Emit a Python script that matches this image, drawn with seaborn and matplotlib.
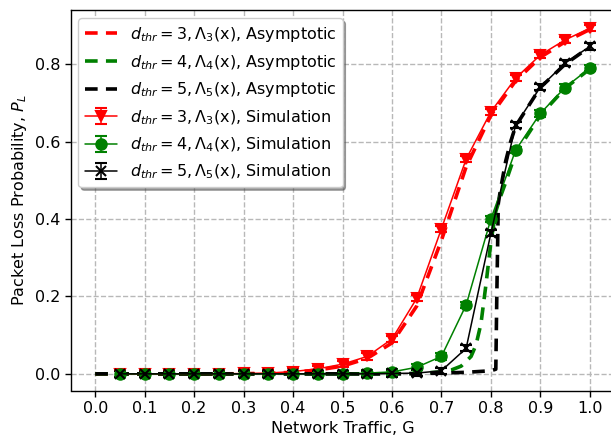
import numpy as np
import pandas as pd
import seaborn as sns
import matplotlib
matplotlib.use("Agg")
import matplotlib.pyplot as plt

# ---- data ----
# Asymptotic curves
x_asym_3 = [0.0, 0.05, 0.1, 0.15, 0.2, 0.25, 0.3, 0.35, 0.4, 0.45, 0.5, 0.55, 0.6, 0.65, 0.7, 0.75, 0.8, 0.85, 0.9, 0.95, 1.0]
y_asym_3 = [0.0, 0.0, 0.0, 0.0, 0.0, 0.0, 0.0005, 0.0015, 0.004, 0.010, 0.020, 0.040, 0.080, 0.175, 0.345, 0.535, 0.668, 0.757, 0.818, 0.858, 0.890]

x_asym_4 = [0.0, 0.05, 0.1, 0.15, 0.2, 0.25, 0.3, 0.35, 0.4, 0.45, 0.5, 0.55, 0.6, 0.65, 0.7, 0.72, 0.74, 0.76, 0.77, 0.78, 0.79, 0.80, 0.81, 0.82, 0.83, 0.85, 0.9, 0.95, 1.0]
y_asym_4 = [0.0, 0.0, 0.0, 0.0, 0.0, 0.0, 0.0, 0.0, 0.0, 0.0, 0.0, 0.0, 0.0005, 0.001, 0.005, 0.010, 0.020, 0.045, 0.075, 0.13, 0.23, 0.34, 0.42, 0.46, 0.495, 0.570, 0.668, 0.738, 0.788]

x_asym_5 = [0.0, 0.05, 0.1, 0.15, 0.2, 0.25, 0.3, 0.35, 0.4, 0.45, 0.5, 0.55, 0.6, 0.65, 0.7, 0.75, 0.8, 0.81, 0.812, 0.815, 0.82, 0.83, 0.84, 0.85, 0.9, 0.95, 1.0]
y_asym_5 = [0.0, 0.0, 0.0, 0.0, 0.0, 0.0, 0.0, 0.0, 0.0, 0.0, 0.0, 0.0, 0.0, 0.0005, 0.002, 0.004, 0.008, 0.012, 0.20, 0.44, 0.48, 0.55, 0.60, 0.640, 0.740, 0.800, 0.845]

# Simulation points
x_sim = [0.05, 0.1, 0.15, 0.2, 0.25, 0.3, 0.35, 0.4, 0.45, 0.5, 0.55, 0.6, 0.65, 0.7, 0.75, 0.8, 0.85, 0.9, 0.95, 1.0]
y_sim_3 = [0.0, 0.0, 0.0, 0.0, 0.0, 0.001, 0.002, 0.006, 0.013, 0.025, 0.045, 0.090, 0.195, 0.375, 0.555, 0.677, 0.764, 0.824, 0.863, 0.893]
y_sim_4 = [0.0, 0.0, 0.0, 0.0, 0.0, 0.0, 0.0, 0.0, 0.0, 0.0, 0.002, 0.005, 0.017, 0.045, 0.178, 0.400, 0.578, 0.673, 0.740, 0.790]
y_sim_5 = [0.0, 0.0, 0.0, 0.0, 0.0, 0.0, 0.0, 0.0, 0.0, 0.0, 0.0, 0.001, 0.002, 0.008, 0.066, 0.363, 0.643, 0.741, 0.803, 0.846]
err_sim = 0.008

labels_asym = [r'$d_{thr} = 3, \Lambda_3$(x), Asymptotic',
               r'$d_{thr} = 4, \Lambda_4$(x), Asymptotic',
               r'$d_{thr} = 5, \Lambda_5$(x), Asymptotic']
labels_sim = [r'$d_{thr} = 3, \Lambda_3$(x), Simulation',
              r'$d_{thr} = 4, \Lambda_4$(x), Simulation',
              r'$d_{thr} = 5, \Lambda_5$(x), Simulation']
colors = ['red', 'green', 'black']
markers = ['v', 'o', 'x']

xticks = [0.0, 0.1, 0.2, 0.3, 0.4, 0.5, 0.6, 0.7, 0.8, 0.9, 1.0]
yticks = [0.0, 0.2, 0.4, 0.6, 0.8]
xlabel = 'Network Traffic, G'
ylabel = r'Packet Loss Probability, $P_L$'

# ---- style ----
sns.set_style("white")
plt.rcParams['font.family'] = ['DejaVu Sans']
plt.rcParams['mathtext.fontset'] = 'dejavusans'
plt.rcParams['text.color'] = 'black'
plt.rcParams['axes.labelcolor'] = 'black'
plt.rcParams['xtick.color'] = 'black'
plt.rcParams['ytick.color'] = 'black'

fig = plt.figure(figsize=(6.11, 4.44), dpi=100)
ax = fig.add_axes([70.5 / 611, (444 - 390.5) / 444, (614.5 - 70.5) / 611, (390.5 - 10.5) / 444])

asym = [(x_asym_3, y_asym_3), (x_asym_4, y_asym_4), (x_asym_5, y_asym_5)]
for (xs, ys), c, lab in zip(asym, colors, labels_asym):
    df = pd.DataFrame({'x': xs, 'y': ys})
    sns.lineplot(data=df, x='x', y='y', ax=ax, color=c, lw=2.6,
                 linestyle=(0, (3.5, 2.3)), label=lab, zorder=3)

for ys, c, m, lab in zip([y_sim_3, y_sim_4, y_sim_5], colors, markers, labels_sim):
    ax.errorbar(x_sim, ys, yerr=err_sim, color=c, marker=m, markersize=7.5,
                mew=1.5, lw=1.1, capsize=4, elinewidth=1.1, label=lab, zorder=4)

ax.set_xlim(-0.05, 1.05)
ax.set_ylim(-0.043, 0.939)
ax.set_xticks(xticks)
ax.set_yticks(yticks)
ax.set_xticklabels([f'{t:.1f}' for t in xticks])
ax.set_yticklabels([f'{t:.1f}' for t in yticks])
ax.tick_params(axis='both', labelsize=11.5, direction='out', length=4, width=1,
               left=True, bottom=True, color='black', labelcolor='black')
ax.set_xlabel(xlabel, fontsize=11.5, color='black')
ax.set_ylabel(ylabel, fontsize=11.5, color='black')
for s in ax.spines.values():
    s.set_color('black')
    s.set_linewidth(1.0)
ax.grid(True, linestyle='--', color='#b8b8b8', linewidth=1.0)
ax.set_axisbelow(True)

leg = ax.legend(loc='upper left', fontsize=11.5, frameon=True, fancybox=True,
                shadow=True, framealpha=1, edgecolor='#cccccc',
                handlelength=2.0, borderaxespad=0.5, labelspacing=0.55)
for t in leg.get_texts():
    t.set_color('black')

fig.savefig('out.png', dpi=100)
